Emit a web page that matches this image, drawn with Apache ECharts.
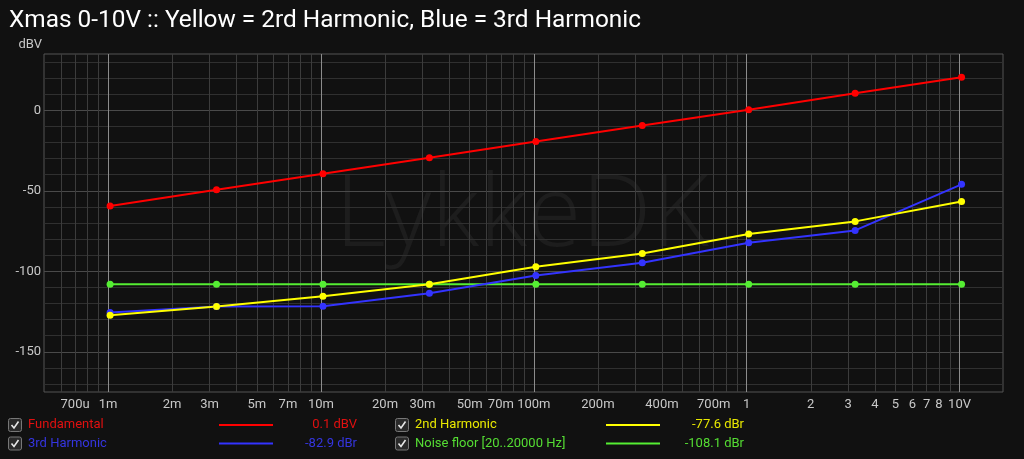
<!DOCTYPE html>
<html>
<head>
<meta charset="utf-8">
<script src="https://cdn.jsdelivr.net/npm/echarts@6/dist/echarts.min.js"></script>
<style>
html,body{margin:0;padding:0;background:#111111;}
#chart{width:1024px;height:459px;}
</style>
</head>
<body>
<div id="chart"></div>
<script>
// ---- data ----
const xValues = [0.001022, 0.003232, 0.01022, 0.03232, 0.1022, 0.3232, 1.022, 3.232, 10.22];
const fundamental = [-59.4, -49.4, -39.4, -29.4, -19.4, -9.4, 0.4, 10.6, 20.6];
const harmonic2 = [-127.3, -121.9, -115.5, -108.0, -97.2, -88.9, -76.9, -69.0, -56.6];
const harmonic3 = [-125.6, -121.9, -121.7, -113.6, -102.6, -94.7, -82.3, -74.6, -46.0];
const noiseFloor = [-108, -108, -108, -108, -108, -108, -108, -108, -108];

const xGridValues = [0.0006, 0.0007, 0.0008, 0.0009,
  0.002, 0.003, 0.004, 0.005, 0.006, 0.007, 0.008, 0.009,
  0.02, 0.03, 0.04, 0.05, 0.06, 0.07, 0.08, 0.09,
  0.2, 0.3, 0.4, 0.5, 0.6, 0.7, 0.8, 0.9,
  2, 3, 4, 5, 6, 7, 8, 9];
const xDecadeValues = [0.001, 0.01, 0.1, 1, 10];
const xLabelValues = [0.0007, 0.001, 0.002, 0.003, 0.005, 0.007, 0.01, 0.02, 0.03, 0.05, 0.07, 0.1, 0.2, 0.4, 0.7, 1, 2, 3, 4, 5, 6, 7, 8, 10];
const xLabelTexts = ['700u', '1m', '2m', '3m', '5m', '7m', '10m', '20m', '30m', '50m', '70m', '100m', '200m', '400m', '700m', '1', '2', '3', '4', '5', '6', '7', '8', '10V'];
const yGridValues = [-170, -160, -150, -140, -130, -120, -110, -100, -90, -80, -70, -60, -50, -40, -30, -20, -10, 0, 10, 20, 30];
const yLabelValues = [-150, -100, -50, 0];
const yUnit = 'dBV';

const legendNames = ['Fundamental', '2nd Harmonic', '3rd Harmonic', 'Noise floor [20..20000 Hz]'];
const legendValues = ['0.1 dBV', '-77.6 dBr', '-82.9 dBr', '-108.1 dBr'];

const title = 'Xmas 0-10V :: Yellow = 2rd Harmonic, Blue = 3rd Harmonic';

// ---- styles ----
const colors = {
  fundamental: '#ff0000',
  h2: '#ffff00',
  h3: '#3333ff',
  noise: '#55ee33'
};
const legendLineColors = ['#ff0000', '#ffff00', '#3333ff', '#55ee33'];
const legendTextColors = ['#e01010', '#e8e800', '#3535e0', '#55dd33'];

const xMin = 0.0005, xMax = 16;
const lx = v => Math.log10(v);

function pairs(ys) { return xValues.map((x, i) => [x, ys[i]]); }

const chart = echarts.init(document.getElementById('chart'), null, {renderer: 'canvas'});

function labelFor(v) {
  for (let i = 0; i < xLabelValues.length; i++) {
    if (Math.abs(lx(xLabelValues[i]) - v) < 1e-6) return xLabelTexts[i];
  }
  return '';
}

// legend graphics
const legendGraphics = [];
const colX = [{box: 8, text: 28, l1: 219, l2: 273, val: 357}, {box: 395, text: 415, l1: 606, l2: 660, val: 744}];
const rowY = [425, 443.5];
const cells = [[0, 0], [1, 0], [0, 1], [1, 1]];
legendNames.forEach((name, i) => {
  const col = colX[cells[i][0]];
  const y = rowY[cells[i][1]];
  legendGraphics.push({
    type: 'rect', silent: true,
    shape: {x: col.box + 0.5, y: y - 6.5, width: 13, height: 13, r: 2},
    style: {fill: '#2a2a2a', stroke: '#777', lineWidth: 1}
  });
  legendGraphics.push({
    type: 'polyline', silent: true,
    shape: {points: [[col.box + 3.5, y], [col.box + 6, y + 3], [col.box + 10.5, y - 3.5]]},
    style: {stroke: '#e8e8e8', lineWidth: 1.6, fill: null}
  });
  legendGraphics.push({
    type: 'text', silent: true, x: col.text, y: y,
    style: {text: name, fill: legendTextColors[i], font: '13px Roboto', align: 'left', verticalAlign: 'middle'}
  });
  legendGraphics.push({
    type: 'line', silent: true,
    shape: {x1: col.l1, y1: y, x2: col.l2, y2: y},
    style: {stroke: legendLineColors[i], lineWidth: 2}
  });
  legendGraphics.push({
    type: 'text', silent: true, x: col.val, y: y,
    style: {text: legendValues[i], fill: legendTextColors[i], font: '13px Roboto', align: 'right', verticalAlign: 'middle'}
  });
});

const option = {
  backgroundColor: '#111111',
  animation: false,
  title: {
    text: title, left: 4, top: 4,
    textStyle: {color: '#ffffff', fontSize: 24.4, fontWeight: 'normal', fontFamily: 'Roboto'}
  },
  grid: {
    left: 44, right: 21, top: 54, bottom: 67,
    show: true, borderColor: '#555555', borderWidth: 1, backgroundColor: 'transparent'
  },
  graphic: [
    {
      type: 'text', silent: true, z: 0,
      x: 522, y: 218,
      style: {text: 'LykkeDK', fill: '#1d1d1d', font: '300 99px "Open Sans"', align: 'center', verticalAlign: 'middle'}
    },
    {
      type: 'text', silent: true,
      x: 42, y: 45,
      style: {text: yUnit, fill: '#c8c8c8', font: '13px Roboto', align: 'right', verticalAlign: 'middle'}
    }
  ].concat(legendGraphics),
  xAxis: [
    { type: 'log', min: xMin, max: xMax, logBase: 10, show: false, gridIndex: 0 },
    {
      type: 'value', position: 'bottom', min: lx(xMin), max: lx(xMax), gridIndex: 0,
      axisLine: {show: false, onZero: false},
      axisTick: {show: false, customValues: xGridValues.map(lx)},
      splitLine: {show: true, lineStyle: {color: '#3c3c3c', width: 1}},
      axisLabel: {
        show: true, customValues: xLabelValues.map(lx), color: '#c8c8c8', fontSize: 13, fontFamily: 'Roboto',
        margin: 6, formatter: labelFor, hideOverlap: false
      }
    },
    {
      type: 'value', position: 'bottom', min: lx(xMin), max: lx(xMax), gridIndex: 0,
      axisLine: {show: false, onZero: false},
      axisTick: {show: false, customValues: xDecadeValues.map(lx)},
      splitLine: {show: true, lineStyle: {color: '#8c8c8c', width: 1}},
      axisLabel: {show: false}
    }
  ],
  yAxis: [
    {
      type: 'value', min: -175, max: 35, position: 'left',
      axisLine: {show: false},
      axisTick: {show: false, customValues: yGridValues},
      splitLine: {show: true, lineStyle: {color: '#303030', width: 1}},
      axisLabel: {customValues: yLabelValues, color: '#c8c8c8', fontSize: 13, fontFamily: 'Roboto', margin: 3}
    },
    {
      type: 'value', min: -175, max: 35, position: 'left',
      axisLine: {show: false},
      axisTick: {show: false, customValues: yLabelValues},
      splitLine: {show: true, lineStyle: {color: '#4a4a4a', width: 1}},
      axisLabel: {show: false}
    }
  ],
  series: [
    {
      name: legendNames[3], type: 'line', data: pairs(noiseFloor), xAxisIndex: 0, yAxisIndex: 0,
      symbol: 'circle', symbolSize: 7, itemStyle: {color: colors.noise}, lineStyle: {color: colors.noise, width: 2}
    },
    {
      name: legendNames[2], type: 'line', data: pairs(harmonic3), xAxisIndex: 0, yAxisIndex: 0,
      symbol: 'circle', symbolSize: 7, itemStyle: {color: colors.h3}, lineStyle: {color: colors.h3, width: 2}
    },
    {
      name: legendNames[1], type: 'line', data: pairs(harmonic2), xAxisIndex: 0, yAxisIndex: 0,
      symbol: 'circle', symbolSize: 7, itemStyle: {color: colors.h2}, lineStyle: {color: colors.h2, width: 2}
    },
    {
      name: legendNames[0], type: 'line', data: pairs(fundamental), xAxisIndex: 0, yAxisIndex: 0,
      symbol: 'circle', symbolSize: 7, itemStyle: {color: colors.fundamental}, lineStyle: {color: colors.fundamental, width: 2}
    }
  ]
};
chart.setOption(option);
</script>
</body>
</html>
